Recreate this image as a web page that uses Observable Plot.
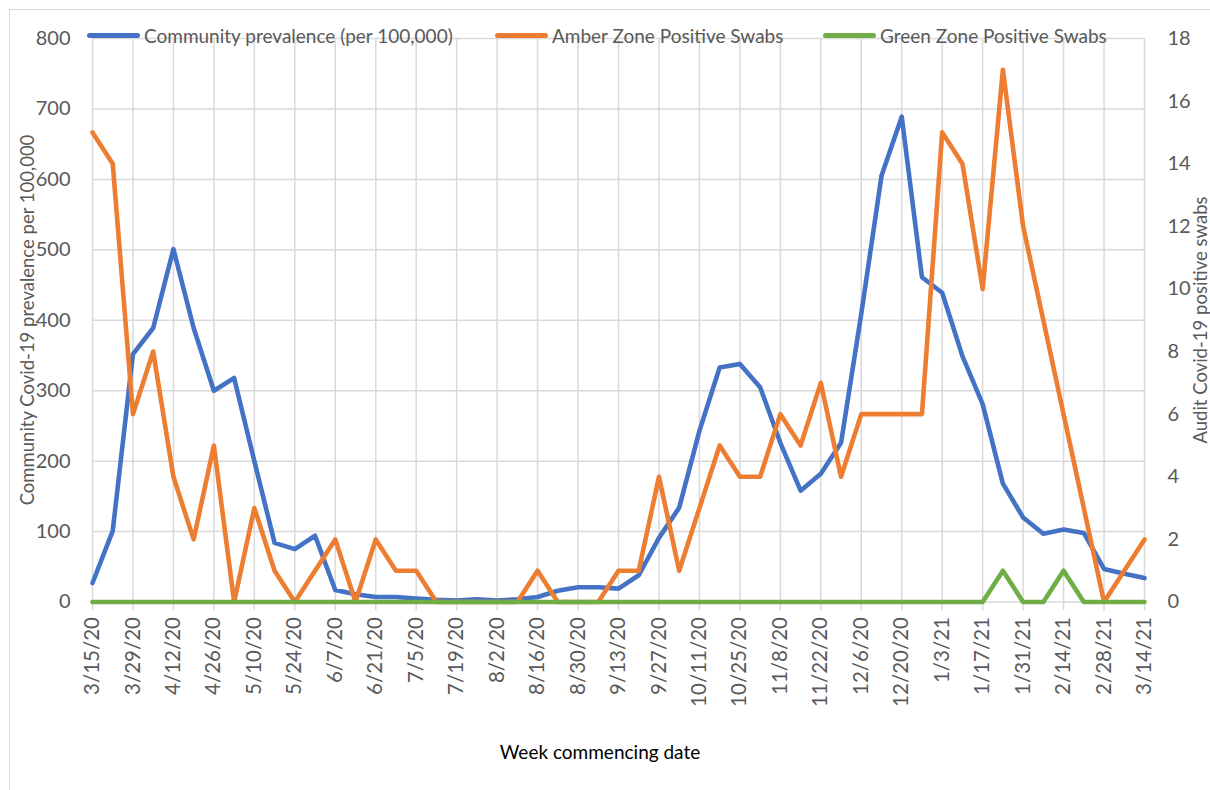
<!DOCTYPE html>
<html>
<head>
<meta charset="utf-8">
<script src="https://cdn.jsdelivr.net/npm/d3@7"></script>
<script src="https://cdn.jsdelivr.net/npm/@observablehq/plot@0.6"></script>
<style>
  body { margin: 0; background: #fff; font-family: Lato, "Open Sans", sans-serif; }
  #wrap { position: relative; width: 1210px; height: 790px; overflow: hidden; background: #fff; }
  #frame { position: absolute; left: 9px; top: 9px; width: 1400px; height: 1000px; border: 1.5px solid #d9d9d9; box-sizing: border-box; }
  #chart { position: absolute; left: 0; top: 0; }
  .leg { position: absolute; top: 24px; height: 22px; display: flex; align-items: center; font-size: 19px; color: #595959; white-space: nowrap; }
  .leg .sw { width: 53px; height: 5px; border-radius: 3px; margin-right: 4px; }
  .ytitle { position: absolute; font-size: 18.5px; line-height: 20px; color: #595959; white-space: nowrap; transform-origin: center center; }
  #xtitle { position: absolute; left: 0; width: 1200px; text-align: center; top: 740px; font-size: 19px; color: #000; }
</style>
</head>
<body>
<div id="wrap">
  <div id="frame"></div>
  <div id="chart"></div>
  <div class="leg" style="left:87px"><div class="sw" style="background:#4472C4"></div>Community prevalence (per 100,000)</div>
  <div class="leg" style="left:495px"><div class="sw" style="background:#ED7D31"></div>Amber Zone Positive Swabs</div>
  <div class="leg" style="left:823px"><div class="sw" style="background:#70AD47"></div>Green Zone Positive Swabs</div>
  <div class="ytitle" id="ytl">Community Covid-19 prevalence per 100,000</div>
  <div class="ytitle" id="ytr">Audit Covid-19 positive swabs</div>
  <div id="xtitle">Week commencing date</div>
</div>
<script>
const weeks = [
  "2020-03-15","2020-03-22","2020-03-29","2020-04-05","2020-04-12","2020-04-19","2020-04-26",
  "2020-05-03","2020-05-10","2020-05-17","2020-05-24","2020-05-31","2020-06-07","2020-06-14",
  "2020-06-21","2020-06-28","2020-07-05","2020-07-12","2020-07-19","2020-07-26","2020-08-02",
  "2020-08-09","2020-08-16","2020-08-23","2020-08-30","2020-09-06","2020-09-13","2020-09-20",
  "2020-09-27","2020-10-04","2020-10-11","2020-10-18","2020-10-25","2020-11-01","2020-11-08",
  "2020-11-15","2020-11-22","2020-11-29","2020-12-06","2020-12-13","2020-12-20","2020-12-27",
  "2021-01-03","2021-01-10","2021-01-17","2021-01-24","2021-01-31","2021-02-07","2021-02-14",
  "2021-02-21","2021-02-28","2021-03-07","2021-03-14"
];
const community = [27,101,352,389,501,389,300,318,200,84,75,94,17,11,7,7,5,3,2,4,2,4,7,16,21,21,19,38,91,134,
  243,333,338,305,226,158,182,226,409,605,689,461,439,349,281,168,120,97,103,98,47,40,34];
const amber = [15,14,6,8,4,2,5,0,3,1,0,1,2,0,2,1,1,0,0,0,0,0,1,0,0,0,1,1,4,1,
  3,5,4,4,6,5,7,4,6,6,6,6,15,14,10,17,12,9,6,3,0,1,2];
const green = [0,0,0,0,0,0,0,0,0,0,0,0,0,0,0,0,0,0,0,0,0,0,0,0,0,0,0,0,0,0,
  0,0,0,0,0,0,0,0,0,0,0,0,0,0,0,1,0,0,1,0,0,0,0];
const leftTicks = [0,100,200,300,400,500,600,700,800];
const rightTicks = [0,2,4,6,8,10,12,14,16,18];
const tickWeeks = weeks.filter((w, i) => i % 2 === 0);

const leftMax = 800, rightMax = 18, k = leftMax / rightMax;
const rows = weeks.map((w, i) => ({date: new Date(w), community: community[i], amber: amber[i] * k, green: green[i] * k}));
const tickDates = tickWeeks.map(w => new Date(w));
const fmt = d => `${d.getUTCMonth() + 1}/${d.getUTCDate()}/${String(d.getUTCFullYear()).slice(2)}`;

const lineOpts = {strokeWidth: 4.6, strokeLinejoin: "round", strokeLinecap: "round"};
const chart = Plot.plot({
  width: 1210, height: 790,
  marginLeft: 92, marginRight: 66, marginTop: 38, marginBottom: 188.5,
  x: {type: "utc", domain: [new Date(weeks[0]), new Date(weeks[weeks.length - 1])]},
  y: {domain: [0, leftMax]},
  style: {fontFamily: "Lato, 'Open Sans', sans-serif", color: "#595959", background: "transparent", overflow: "visible"},
  marks: [
    Plot.gridY(leftTicks, {stroke: "#d9d9d9", strokeOpacity: 1, strokeWidth: 1.5}),
    Plot.gridX(tickDates, {stroke: "#d9d9d9", strokeOpacity: 1, strokeWidth: 1.5}),
    Plot.axisY(leftTicks, {anchor: "left", tickSize: 0, tickPadding: 22, label: null, fontSize: 20, fill: "#595959"}),
    Plot.axisY(rightTicks.map(v => v * k), {anchor: "right", tickSize: 0, tickPadding: 23, label: null, fontSize: 20, fill: "#595959",
      tickFormat: v => String(Math.round(v / k))}),
    Plot.axisX(tickDates, {anchor: "bottom", tickSize: 9, tickPadding: 6, tickRotate: -90, tickFormat: fmt, label: null,
      fontSize: 20.5, stroke: "#d9d9d9", strokeWidth: 1.5, fill: "#595959"}),
    Plot.lineY(rows, {x: "date", y: "community", stroke: "#4472C4", ...lineOpts}),
    Plot.lineY(rows, {x: "date", y: "amber", stroke: "#ED7D31", ...lineOpts}),
    Plot.lineY(rows, {x: "date", y: "green", stroke: "#70AD47", ...lineOpts})
  ]
});
document.getElementById("chart").appendChild(chart);

function placeTitle(el, cx, cy) {
  const w = el.offsetWidth, h = el.offsetHeight;
  el.style.left = (cx - w / 2) + "px";
  el.style.top = (cy - h / 2) + "px";
  el.style.transform = "rotate(-90deg)";
}
placeTitle(document.getElementById("ytl"), 27, 320);
placeTitle(document.getElementById("ytr"), 1199, 320);
</script>
</body>
</html>
